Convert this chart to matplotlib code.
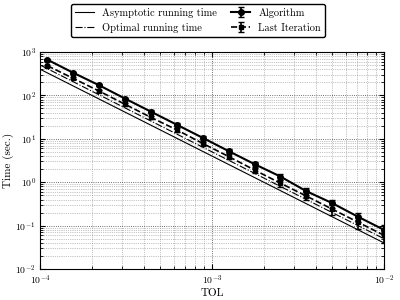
import numpy as np
import matplotlib
matplotlib.use("Agg")
import matplotlib.pyplot as plt

plt.rcParams['font.family'] = 'serif'
plt.rcParams['font.serif'] = ['cmr10', 'DejaVu Serif']
plt.rcParams['mathtext.fontset'] = 'cm'
plt.rcParams['axes.formatter.use_mathtext'] = True
plt.rcParams['xtick.direction'] = 'in'
plt.rcParams['ytick.direction'] = 'in'
plt.rcParams['xtick.top'] = True
plt.rcParams['ytick.right'] = True

# tolerances (factor sqrt(2) apart)
tol = [1.105e-4, 1.5625e-4, 2.21e-4, 3.125e-4, 4.42e-4, 6.25e-4, 8.84e-4,
       1.25e-3, 1.77e-3, 2.5e-3, 3.54e-3, 5e-3, 7.07e-3, 1e-2]
# measured running times
alg_time = [660, 330, 170, 84, 42, 21, 10.5, 5.2, 2.6, 1.35, 0.62, 0.33, 0.16, 0.08]
alg_err = [30, 15, 9, 5, 3, 1.6, 0.9, 0.5, 0.3, 0.2, 0.12, 0.07, 0.04, 0.025]
last_time = [480, 245, 125, 62, 31, 16, 7.8, 3.9, 1.9, 0.95, 0.48, 0.24, 0.12, 0.06]
last_err = [25, 13, 8, 4.5, 2.5, 1.4, 0.8, 0.45, 0.28, 0.16, 0.1, 0.06, 0.035, 0.02]
# reference lines
line_tol = [1e-4, 1e-2]
asym_time = [400, 0.04]
opt_time = [500, 0.05]

fig = plt.figure(figsize=(4, 3), dpi=100)
ax = fig.add_axes([0.10, 0.103, 0.86, 0.724])

l1, = ax.plot(line_tol, asym_time, 'k-', lw=0.8, label='Asymptotic running time')
l2, = ax.plot(line_tol, opt_time, 'k-.', lw=0.8, label='Optimal running time')
e1 = ax.errorbar(tol, alg_time, yerr=alg_err, fmt='ko-', lw=1.5, ms=4,
                 capsize=2.5, elinewidth=1.2, label='Algorithm')
e2 = ax.errorbar(tol, last_time, yerr=last_err, fmt='ks--', lw=1.2, ms=3,
                 capsize=2.5, elinewidth=1.2, label='Last Iteration')

ax.set_xscale('log')
ax.set_yscale('log')
ax.set_xlim(1e-4, 1e-2)
ax.set_ylim(1e-2, 1e3)
ax.grid(True, which='major', ls=':', color='0.25', lw=0.6)
ax.grid(True, which='minor', ls=':', color='0.55', lw=0.5)
ax.tick_params(labelsize=7, pad=3)
ax.set_xlabel('TOL', fontsize=8, labelpad=1)
ax.set_ylabel('Time (sec.)', fontsize=8, labelpad=1)

fig.legend(handles=[l1, l2, e1, e2], ncol=2, fontsize=7.5,
           loc='upper center', bbox_to_anchor=(0.495, 1.005),
           handlelength=1.8, columnspacing=1.4, handletextpad=0.8,
           fancybox=True, edgecolor='k', framealpha=1)

fig.savefig('out.png', dpi=100)
